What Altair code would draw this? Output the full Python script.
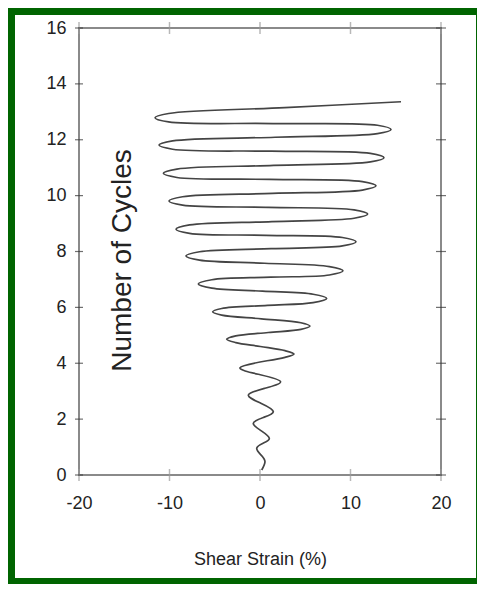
import altair as alt
import pandas as pd

# Values (curve traced tip-by-tip, bottom to top)
strain = [0.19, 0.55, 0.10, -0.36, 0.34, 1.03, 0.15, -0.74, 0.37, 1.47, 0.09, -1.29, 0.49, 2.27,
          0.03, -2.21, 0.78,
          2.76, 3.76, 2.76, 0.04,
          -2.68, -3.68, -2.68, 0.92,
          4.52, 5.52, 4.52, 0.15,
          -4.23, -5.23, -4.23, 0.82,
          5.87, 7.37, 5.87, 0.28,
          -5.32, -6.82, -5.32, 1.18,
          7.67, 9.17, 7.67, 0.50,
          -6.68, -8.18, -6.68, 1.22,
          9.11, 10.61, 9.11, 0.67,
          -7.78, -9.28, -7.78, 1.31,
          10.40, 11.90, 10.40, 0.92,
          -8.56, -10.06, -8.56, 1.38,
          11.32, 12.82, 11.32, 1.07,
          -9.18, -10.68, -9.18, 1.51,
          12.20, 13.70, 12.20, 1.27,
          -9.66, -11.16, -9.66, 1.66,
          12.98, 14.48, 12.98, 1.44,
          -10.10, -11.60, -10.10, 2.74,
          15.58]
cycles = [0.18, 0.48, 0.72, 0.96, 1.14, 1.31, 1.58, 1.85, 2.06, 2.27, 2.57, 2.86, 3.10, 3.34,
          3.59, 3.84, 4.09,
          4.21, 4.33, 4.45, 4.60,
          4.74, 4.86, 4.98, 5.10,
          5.21, 5.33, 5.45, 5.59,
          5.72, 5.84, 5.96, 6.07,
          6.17, 6.32, 6.47, 6.58,
          6.69, 6.84, 6.99, 7.08,
          7.16, 7.31, 7.46, 7.58,
          7.69, 7.84, 7.99, 8.10,
          8.20, 8.35, 8.50, 8.58,
          8.65, 8.80, 8.95, 9.07,
          9.19, 9.34, 9.49, 9.58,
          9.66, 9.81, 9.96, 10.08,
          10.20, 10.35, 10.50, 10.58,
          10.65, 10.80, 10.95, 11.08,
          11.21, 11.36, 11.51, 11.59,
          11.66, 11.81, 11.96, 12.09,
          12.22, 12.37, 12.52, 12.58,
          12.64, 12.79, 12.94, 13.15,
          13.36]
SPLIT = 16  # small sinusoidal start (smooth spline) / large hairpin loops
x_ticks = [-20, -10, 0, 10, 20]
y_ticks = [0, 2, 4, 6, 8, 10, 12, 14, 16]

FONT = "Liberation Sans"
W, H = 362, 447

curve_df = pd.DataFrame({"strain": strain, "cycles": cycles, "i": list(range(len(strain)))})
low_df = curve_df.iloc[: SPLIT + 1]
high_df = curve_df.iloc[SPLIT:]
xs = alt.Scale(domain=[x_ticks[0], x_ticks[-1]], nice=False, zero=False)
ys = alt.Scale(domain=[y_ticks[0], y_ticks[-1]], nice=False, zero=False)

x_axis = alt.Axis(
    values=x_ticks, domain=False, ticks=False, grid=False, labelFlush=False,
    labelExpr="'' + datum.value",
    labelFont=FONT, labelFontSize=18, labelColor="#222222", labelPadding=19,
    title="Shear Strain (%)", titleFont=FONT, titleFontSize=18, titleFontWeight="normal",
    titleColor="#222222", titleY=75, titleBaseline="top", zindex=1)
y_axis = alt.Axis(
    values=y_ticks, domain=False, ticks=False, grid=False, labelFlush=False,
    labelExpr="'' + datum.value",
    labelFont=FONT, labelFontSize=18, labelColor="#222222", labelPadding=13,
    title="Number of Cycles", titleFont=FONT, titleFontSize=28, titleFontWeight="normal",
    titleColor="#222222", titleX=43, titleY=232, titleAngle=270,
    titleBaseline="middle", titleAlign="center", zindex=1)

def X():
    return alt.X("strain:Q", scale=xs, axis=x_axis)

def Y():
    return alt.Y("cycles:Q", scale=ys, axis=y_axis)

one = alt.Chart(pd.DataFrame({"k": [0]}))
panel = one.mark_rect(color="white").encode(
    x=alt.value(-64), x2=alt.value(397), y=alt.value(-13), y2=alt.value(550)
)

box_df = pd.DataFrame({"strain": [x_ticks[0]], "x1": [x_ticks[-1]],
                       "cycles": [y_ticks[0]], "y1": [y_ticks[-1]]})
box = alt.Chart(box_df).mark_rect(filled=False, stroke="#8a8a8a", strokeWidth=2).encode(
    x=X(), x2="x1:Q", y=Y(), y2="y1:Q",
)

def xt(yval):
    df = pd.DataFrame({"strain": x_ticks, "cycles": [yval] * len(x_ticks)})
    return alt.Chart(df).mark_tick(orient="vertical", size=12, thickness=1.5, color="#9a9a9a").encode(
        x=X(), y=Y())

def yt(xval, size):
    df = pd.DataFrame({"strain": [xval] * len(y_ticks), "cycles": y_ticks})
    return alt.Chart(df).mark_tick(orient="horizontal", size=size, thickness=1.2, color="#333333").encode(
        x=X(), y=Y())

curve_low = alt.Chart(low_df).mark_line(
    interpolate="natural", color="#444444", strokeWidth=1.7
).encode(x=X(), y=Y(), order=alt.Order("i:Q"))
curve_high = alt.Chart(high_df).mark_line(
    interpolate="catmull-rom", color="#444444", strokeWidth=1.7
).encode(x=X(), y=Y(), order=alt.Order("i:Q"))

chart = alt.layer(
    panel, box, xt(y_ticks[0]), xt(y_ticks[-1]), yt(x_ticks[0], 8), yt(x_ticks[-1], 10),
    curve_low, curve_high
).properties(
    width=W, height=H,
    autosize=alt.AutoSizeParams(type="none"),
    padding={"left": 71, "top": 20, "right": 36, "bottom": 109},
    background="#006400",
).configure_view(stroke="transparent", strokeWidth=0)

chart.save("out.html", embed_options={"renderer": "svg", "actions": False})
